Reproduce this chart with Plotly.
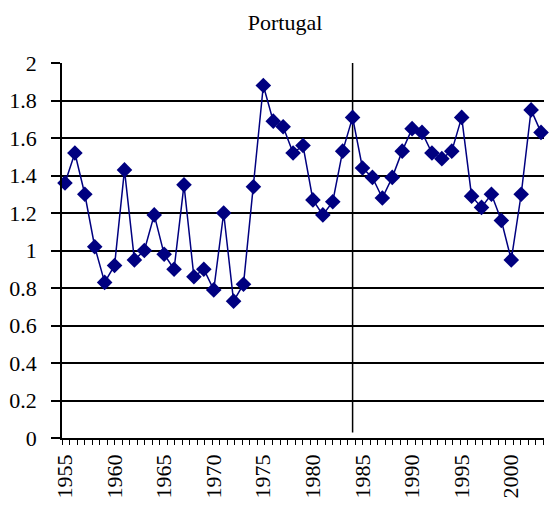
import plotly.graph_objects as go

years = list(range(1955, 2004))
values = [1.36, 1.52, 1.30, 1.02, 0.83, 0.92, 1.43, 0.95, 1.00, 1.19,
          0.98, 0.90, 1.35, 0.86, 0.90, 0.79, 1.20, 0.73, 0.82, 1.34,
          1.88, 1.69, 1.66, 1.52, 1.56, 1.27, 1.19, 1.26, 1.53, 1.71,
          1.44, 1.39, 1.28, 1.39, 1.53, 1.65, 1.63, 1.52, 1.49, 1.53,
          1.71, 1.29, 1.23, 1.30, 1.16, 0.95, 1.30, 1.75, 1.63]
tick_years = [1955, 1960, 1965, 1970, 1975, 1980, 1985, 1990, 1995, 2000]
marker_year = 1984
title_text = "Portugal"

font_family = "Liberation Serif"

fig = go.Figure()
fig.add_trace(go.Scatter(
    x=years, y=values, mode="lines+markers",
    line=dict(color="#000080", width=1.5),
    marker=dict(symbol="diamond", size=12, color="#000080"),
    showlegend=False, cliponaxis=False,
))

fig.add_shape(type="line", xref="x", yref="y",
              x0=marker_year, x1=marker_year, y0=0.03, y1=2,
              line=dict(color="black", width=1.5), layer="below")

fig.update_layout(
    width=550, height=508,
    margin=dict(l=62, r=6, t=63, b=70),
    paper_bgcolor="white", plot_bgcolor="white",
    font=dict(family=font_family, size=22, color="black"),
    title=dict(text=title_text, x=285/550, xref="container", xanchor="center",
               y=1-22/508, yref="container", yanchor="middle",
               font=dict(family=font_family, size=22, color="black")),
)

fig.update_xaxes(
    range=[1954.70, 2003.30], automargin=False,
    tickmode="array", tickvals=tick_years, ticktext=[str(t) for t in tick_years],
    tickangle=-90, ticks="", showgrid=False, zeroline=False,
    showline=True, linecolor="black", linewidth=1.5,
    minor=dict(ticks="outside", tick0=1954.70, dtick=0.758, ticklen=5,
               tickcolor="black", tickwidth=1.2, showgrid=False),
    ticklabelstandoff=6,
)

fig.update_yaxes(
    range=[0, 2], dtick=0.2, tick0=0, automargin=False,
    showgrid=True, gridcolor="black", gridwidth=1.5,
    ticks="outside", ticklen=9, tickcolor="black", tickwidth=1.5,
    showline=True, linecolor="black", linewidth=1.5,
    zeroline=False, ticklabelstandoff=10,
)

fig.write_html("out.html",
               config={"displayModeBar": False},
               post_script="document.body.style.margin='0';document.body.style.overflow='hidden';")
